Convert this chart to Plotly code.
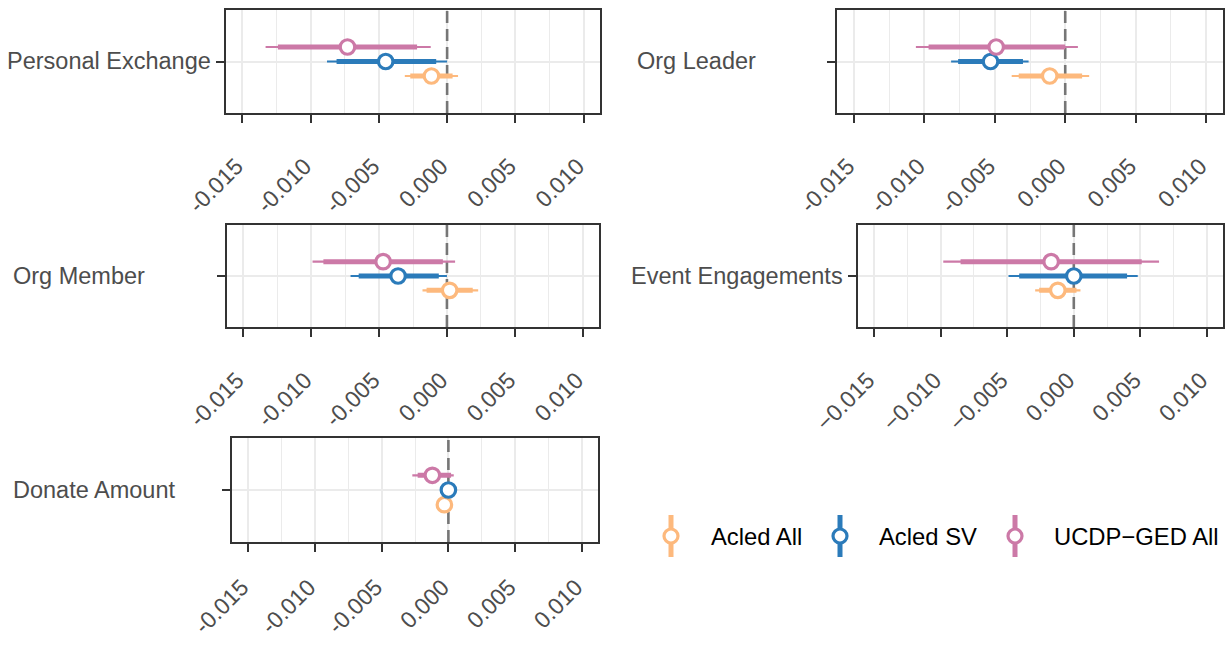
import plotly.graph_objects as go

W, H = 1231, 645

# Outcomes, one panel each
outcomes = ["Personal Exchange", "Org Leader", "Org Member", "Event Engagements", "Donate Amount"]

# Series names and colours
series_names = ["Acled All", "Acled SV", "UCDP\u2212GED All"]
series_colors = ["#FDB97D", "#2B7BBA", "#CC79A7"]

# Estimates and intervals per series (order follows `outcomes`)
acled_all_est = [-0.00115, -0.0011, 0.0002, -0.0012, -0.0003]
acled_all_lo_in = [-0.0027, -0.0033, -0.0015, -0.0026, -0.0005]
acled_all_hi_in = [0.0004, 0.0012, 0.0019, 0.0002, -0.0001]
acled_all_lo_out = [-0.0031, -0.0038, -0.0018, -0.0029, -0.0006]
acled_all_hi_out = [0.0008, 0.0017, 0.0023, 0.0005, 0.0000]

acled_sv_est = [-0.0045, -0.0053, -0.0036, 0.0000, 0.0000]
acled_sv_lo_in = [-0.0081, -0.0076, -0.0065, -0.0041, -0.0002]
acled_sv_hi_in = [-0.0008, -0.0030, -0.0006, 0.0040, 0.0002]
acled_sv_lo_out = [-0.0088, -0.0081, -0.0071, -0.0049, -0.0003]
acled_sv_hi_out = [0.0000, -0.0026, 0.0000, 0.0048, 0.0003]

ucdp_est = [-0.0073, -0.0049, -0.0047, -0.0017, -0.0012]
ucdp_lo_in = [-0.0124, -0.0097, -0.0091, -0.0085, -0.0023]
ucdp_hi_in = [-0.0022, 0.0000, -0.0003, 0.0051, 0.0002]
ucdp_lo_out = [-0.0133, -0.0106, -0.0099, -0.0098, -0.0027]
ucdp_hi_out = [-0.0012, 0.0009, 0.0006, 0.0064, 0.0004]

# Axis ticks
tick_vals = [-0.015, -0.010, -0.005, 0.0, 0.005, 0.010]
tick_text_hyphen = ["-0.015", "-0.010", "-0.005", "0.000", "0.005", "0.010"]
tick_text_minus = ["\u22120.015", "\u22120.010", "\u22120.005", "0.000", "0.005", "0.010"]

series = [
    (acled_all_est, acled_all_lo_in, acled_all_hi_in, acled_all_lo_out, acled_all_hi_out),
    (acled_sv_est, acled_sv_lo_in, acled_sv_hi_in, acled_sv_lo_out, acled_sv_hi_out),
    (ucdp_est, ucdp_lo_in, ucdp_hi_in, ucdp_lo_out, ucdp_hi_out),
]

# Panel boxes in pixels: (left, right, top, bottom), label left edge, tick-label gap
boxes = [(226, 600, 10, 113), (837, 1223, 10, 113), (227, 599, 225, 327),
         (858, 1223, 225, 327), (232, 598, 438, 542)]
label_left = [5, 635, 11, 629, 11]
label_gap = [21, 21, 21, 21, 13]
tick_texts = [tick_text_hyphen, tick_text_hyphen, tick_text_hyphen, tick_text_minus, tick_text_hyphen]

FONT = "Liberation Sans, Arial, sans-serif"
AXIS_GREY = "#4D4D4D"
FRAME = "#333333"
GRID = "#EBEBEB"
X_RANGE = [-0.0162, 0.0112]
Y_RANGE = [-3.55, 3.55]

fig = go.Figure()
layout = {}
shapes = []
annotations = []

for p, name in enumerate(outcomes):
    n = p + 1
    xa = "x" if n == 1 else f"x{n}"
    ya = "y" if n == 1 else f"y{n}"
    left, right, top, bottom = boxes[p]

    layout["xaxis" if n == 1 else f"xaxis{n}"] = dict(
        domain=[left / W, right / W], anchor=ya, range=X_RANGE, automargin=False,
        tickvals=tick_vals, ticktext=tick_texts[p], tickangle=-45,
        ticks="outside", ticklen=8, tickwidth=1.6, tickcolor=FRAME,
        ticklabelstandoff=label_gap[p], ticklabelshift=-6,
        tickfont=dict(family=FONT, size=23, color=AXIS_GREY),
        showgrid=True, gridcolor=GRID, gridwidth=1.6,
        minor=dict(dtick=0.0025, tick0=0, showgrid=True, gridcolor=GRID, gridwidth=0.8),
        zeroline=False, showline=True, mirror=True, linecolor=FRAME, linewidth=1.6,
    )
    layout["yaxis" if n == 1 else f"yaxis{n}"] = dict(
        domain=[1 - bottom / H, 1 - top / H], anchor=xa, range=Y_RANGE, automargin=False,
        tickvals=[0], showticklabels=False,
        ticks="outside", ticklen=8, tickwidth=1.6, tickcolor=FRAME,
        showgrid=True, gridcolor=GRID, gridwidth=1.6,
        zeroline=False, showline=True, mirror=True, linecolor=FRAME, linewidth=1.6,
    )

    # Reference line at zero, drawn beneath the intervals
    fig.add_trace(go.Scatter(
        x=[0, 0], y=Y_RANGE, xaxis=xa, yaxis=ya, mode="lines",
        line=dict(color="#767676", width=2.6, dash="12px,6px"),
        showlegend=False, hoverinfo="skip"))

    # Outcome label
    annotations.append(dict(text=name, xref="paper", yref="paper",
                            x=label_left[p] / W, y=1 - (top + bottom) / 2 / H,
                            xanchor="left", yanchor="middle", showarrow=False,
                            font=dict(family=FONT, size=23.5, color=AXIS_GREY)))

    for s, (est, lo_in, hi_in, lo_out, hi_out) in enumerate(series):
        c = series_colors[s]
        dodge = s - 1
        e = est[p]
        # outer interval (thin)
        fig.add_trace(go.Scatter(
            x=[e], y=[dodge], xaxis=xa, yaxis=ya, mode="markers",
            marker=dict(size=0.1, color="rgba(0,0,0,0)"),
            error_x=dict(type="data", symmetric=False, array=[hi_out[p] - e],
                         arrayminus=[e - lo_out[p]], color=c, thickness=2.2, width=0),
            showlegend=False, hoverinfo="skip"))
        # inner interval (thick) with the point estimate
        fig.add_trace(go.Scatter(
            x=[e], y=[dodge], xaxis=xa, yaxis=ya, mode="markers",
            marker=dict(size=14.5, color="white", symbol="circle", line=dict(color=c, width=3.2)),
            error_x=dict(type="data", symmetric=False, array=[hi_in[p] - e],
                         arrayminus=[e - lo_in[p]], color=c, thickness=5, width=0),
            showlegend=False, name=series_names[s]))

# Legend: vertical pointrange keys with labels
legend_key_x = [671, 840, 1015]
legend_text_x = [709, 877, 1052]
legend_y = 536
for s, label in enumerate(series_names):
    c = series_colors[s]
    kx = legend_key_x[s]
    shapes.append(dict(type="line", xref="paper", yref="paper",
                       x0=kx / W, x1=kx / W, y0=1 - 515 / H, y1=1 - 557 / H,
                       line=dict(color=c, width=5), layer="above"))
    shapes.append(dict(type="circle", xref="paper", yref="paper",
                       x0=(kx - 7) / W, x1=(kx + 7) / W,
                       y0=1 - (legend_y + 7) / H, y1=1 - (legend_y - 7) / H,
                       fillcolor="white", line=dict(color=c, width=3.2), layer="above"))
    annotations.append(dict(text=label, xref="paper", yref="paper",
                            x=legend_text_x[s] / W, y=1 - legend_y / H,
                            xanchor="left", yanchor="middle", showarrow=False,
                            font=dict(family=FONT, size=23.8, color="black")))

fig.update_layout(
    width=W, height=H, margin=dict(l=0, r=0, t=0, b=0, autoexpand=False),
    paper_bgcolor="white", plot_bgcolor="white",
    showlegend=False, shapes=shapes, annotations=annotations,
    font=dict(family=FONT), **layout,
)

fig.write_html("out.html")
